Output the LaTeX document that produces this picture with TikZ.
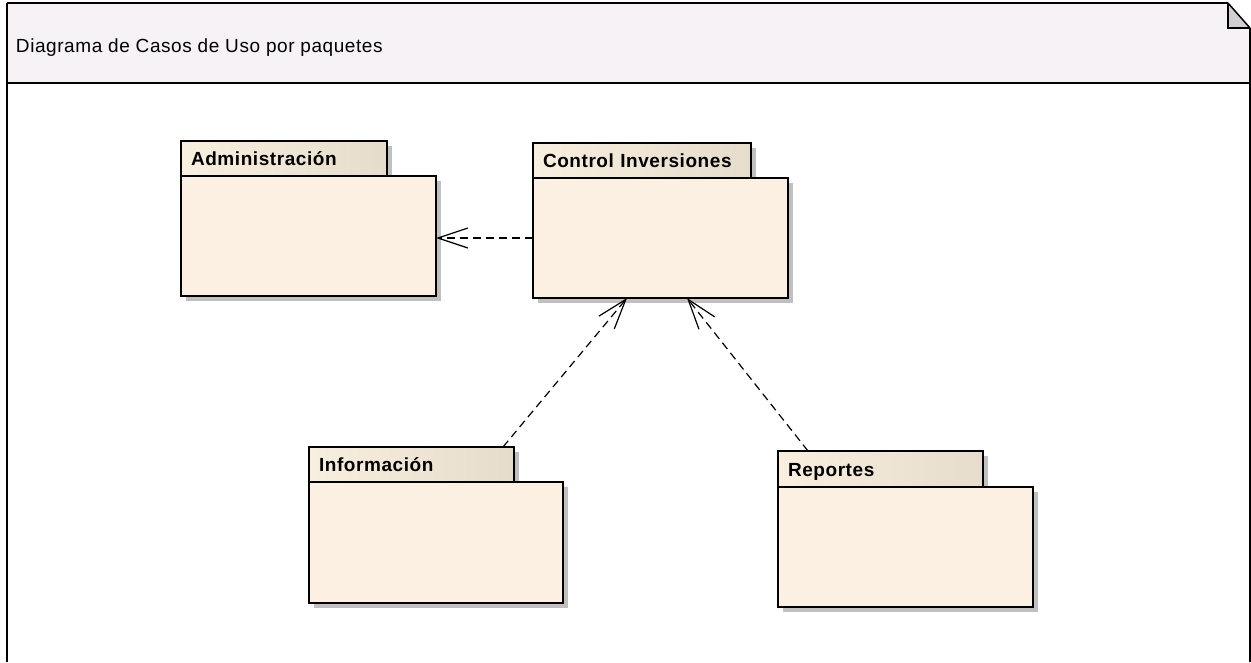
\documentclass[tikz,border=0pt]{standalone}
\usepackage{fontspec}
\setmainfont{Liberation Sans}[LetterSpace=3]
\usetikzlibrary{arrows.meta,shadows}
\definecolor{hdrfill}{HTML}{F6F2F6}
\definecolor{earfill}{HTML}{D2CED2}
\definecolor{pkgfill}{HTML}{FBF0E1}
\definecolor{tabl}{HTML}{F9EFDF}
\definecolor{tabr}{HTML}{E5DCCB}
\definecolor{pkgshadow}{HTML}{C0C0C0}

\begin{document}
\begin{tikzpicture}[x=1pt,y=-1pt]
\tikzstyle{every node}+=[inner sep=0pt, outer sep=0pt]
\tikzstyle{pkgbody}=[draw=black, line width=1.5pt, fill=pkgfill, anchor=north west, general shadow={fill=pkgshadow, shadow xshift=5pt, shadow yshift=-5pt}]
\tikzstyle{pkgtab}=[draw=black, line width=1.5pt, left color=tabl, right color=tabr, anchor=north west, minimum height=35pt, inner xsep=10pt, text height=14pt, text depth=0pt, align=left, font=\fontsize{19}{23}\selectfont\bfseries, general shadow={fill=pkgshadow, shadow xshift=5pt, shadow yshift=-5pt}]
\tikzstyle{dep}=[black, line width=1.2pt, dash pattern=on 8pt off 5pt, -{Straight Barb[length=30pt,width=20pt]}]
\useasboundingbox (0,0) rectangle (1251,662);
\fill [white] (0,0) rectangle (1251,662);
\fill [hdrfill] (7,3) rectangle (1250,83);
\fill [white] (1228,3) -- (1250,3) -- (1250,28) -- cycle;
\fill [earfill] (1228,3) -- (1250,28) -- (1228,28) -- cycle;
\draw [black, line width=1.5pt] (1228,3) -- (1228,28) -- (1250,28);
\draw [black, line width=1.5pt] (1228,3) -- (1250,28);
\draw [black, line width=2pt] (7,3) -- (1228,3);
\draw [black, line width=2pt] (7,83) -- (1250,83);
\draw [black, line width=2pt] (7,3) -- (7,662);
\draw [black, line width=1.5pt] (1250,28) -- (1250,662);
\node [anchor=base west, font=\fontsize{19}{23}\selectfont] (title) at (16,52) {Diagrama de Casos de Uso por paquetes};
\node [pkgtab, text width=186pt] (admintab) at (181,141) {Administración};
\node [pkgbody, minimum width=255pt, minimum height=120pt] (admin) at (181,176) {};
\node [pkgtab, text width=198pt] (ctrltab) at (533,143) {Control Inversiones};
\node [pkgbody, minimum width=255pt, minimum height=120pt] (ctrl) at (533,178) {};
\node [pkgtab, text width=185pt] (infotab) at (309,447) {Información};
\node [pkgbody, minimum width=254pt, minimum height=121pt] (info) at (309,482) {};
\node [pkgtab, text width=185pt, minimum height=36pt] (reptab) at (778,451) {Reportes};
\node [pkgbody, minimum width=255pt, minimum height=120pt] (rep) at (778,487) {};
\draw [dep] (ctrl.west) -- (ctrl.west -| admin.east);
\draw [dep] ([xshift=-11pt]infotab.north east) -- ([xshift=94pt]ctrl.south west);
\draw [dep] ([xshift=30pt]reptab.north west) -- ([xshift=154pt]ctrl.south west);
\end{tikzpicture}
\end{document}
